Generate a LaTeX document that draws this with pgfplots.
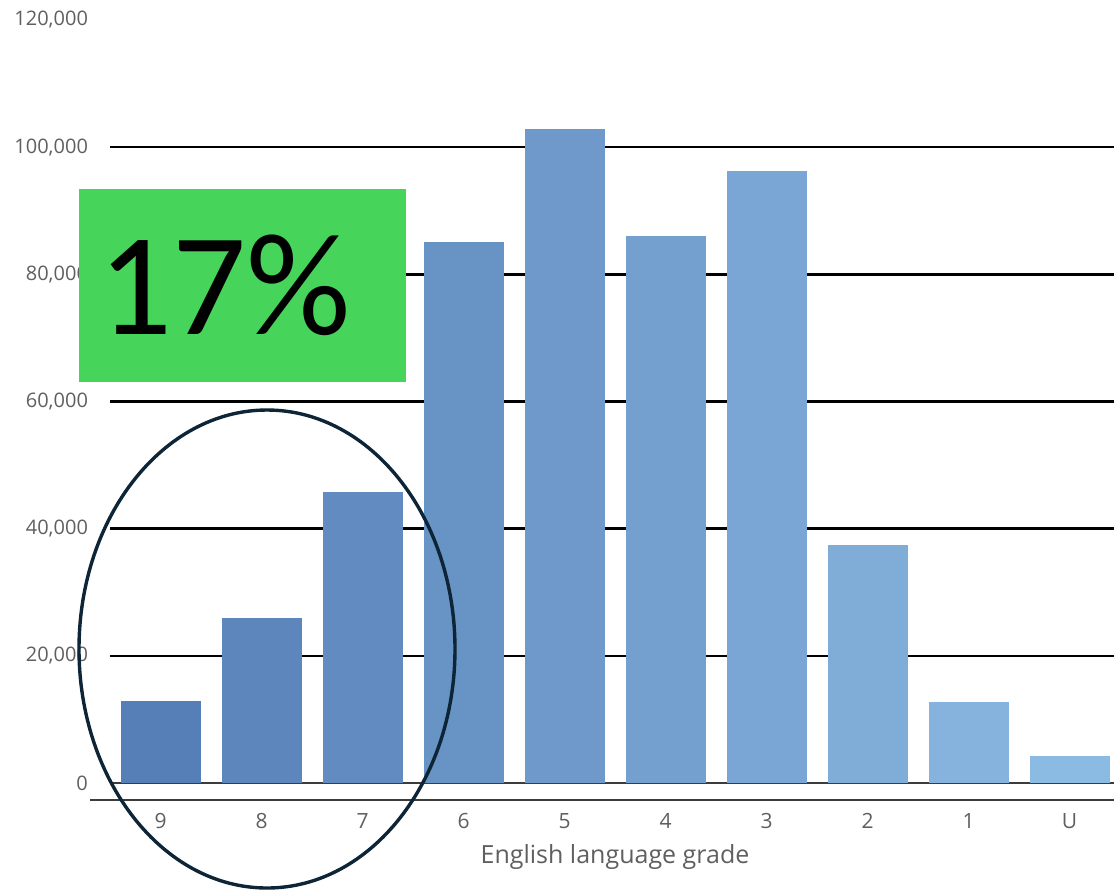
\documentclass[border=0pt]{standalone}
\usepackage{pgfplots}
\pgfplotsset{compat=1.18}
\usepackage{fontspec}
\setmainfont{Open Sans}
\newfontfamily\calib{Carlito}
\definecolor{b0}{RGB}{86,127,183}
\definecolor{b1}{RGB}{92,134,188}
\definecolor{b2}{RGB}{98,140,193}
\definecolor{b3}{RGB}{104,147,197}
\definecolor{b4}{RGB}{110,153,202}
\definecolor{b5}{RGB}{115,160,207}
\definecolor{b6}{RGB}{121,166,212}
\definecolor{b7}{RGB}{127,173,216}
\definecolor{b8}{RGB}{133,179,221}
\definecolor{b9}{RGB}{139,186,226}
\definecolor{boxgreen}{RGB}{71,212,91}
\definecolor{navy}{RGB}{13,37,54}
\definecolor{lab}{RGB}{95,95,95}
\definecolor{axl}{RGB}{60,60,60}
\begin{document}
\begin{tikzpicture}
\useasboundingbox (0pt,0pt) rectangle (557pt,-445.5pt);
\begin{axis}[at={(55pt,-391.5pt)}, anchor=south west, scale only axis,
  width=502pt, height=381.5pt,
  xmin=-0.5, xmax=9.44, ymin=0, ymax=120000,
  axis line style={draw=none}, tick style={draw=none},
  ytick={0,20000,40000,60000,80000,100000,120000},
  yticklabels={0,{20,000},{40,000},{60,000},{80,000},{100,000},{120,000}},
  yticklabel style={anchor=east, xshift=-7.5pt, font=\fontsize{10pt}{12pt}\selectfont, text=lab},
  xtick={0,...,9}, xticklabels={9,8,7,6,5,4,3,2,1,U},
  xticklabel style={yshift=-11.5pt, font=\fontsize{10.5pt}{12pt}\selectfont, text=lab},
  every axis plot/.append style={ybar, bar width=40pt, bar shift=0pt, draw=none},
]
\pgfplotsinvokeforeach{20000,40000,60000,80000,100000}{
  \draw[black, line width=1.3pt] (axis cs:-0.5,#1) -- (axis cs:9.44,#1);
}
\draw[axl, line width=0.7pt] (axis cs:-0.47,0) -- (axis cs:9.44,0);
\addplot[fill=b0] coordinates {(0,12900)};
\addplot[fill=b1] coordinates {(1,25900)};
\addplot[fill=b2] coordinates {(2,45800)};
\addplot[fill=b3] coordinates {(3,85100)};
\addplot[fill=b4] coordinates {(4,102800)};
\addplot[fill=b5] coordinates {(5,86000)};
\addplot[fill=b6] coordinates {(6,96200)};
\addplot[fill=b7] coordinates {(7,37400)};
\addplot[fill=b8] coordinates {(8,12700)};
\addplot[fill=b9] coordinates {(9,4200)};
\end{axis}
\begin{scope}[x=0.5pt,y=-0.5pt]
\draw[axl, line width=1pt] (90,800) -- (1114,800);
\node[text=lab, font=\fontsize{12.5pt}{14pt}\selectfont] at (615,857) {English language grade};
\fill[boxgreen] (79,189) rectangle (406,382);
\node[anchor=base, inner sep=0pt] at (225,334) {\calib\fontsize{73pt}{80pt}\selectfont 17\%};
\draw[navy, line width=1.7pt] (267,649) ellipse [x radius=94pt, y radius=119.5pt];
\end{scope}
\end{tikzpicture}
\end{document}
